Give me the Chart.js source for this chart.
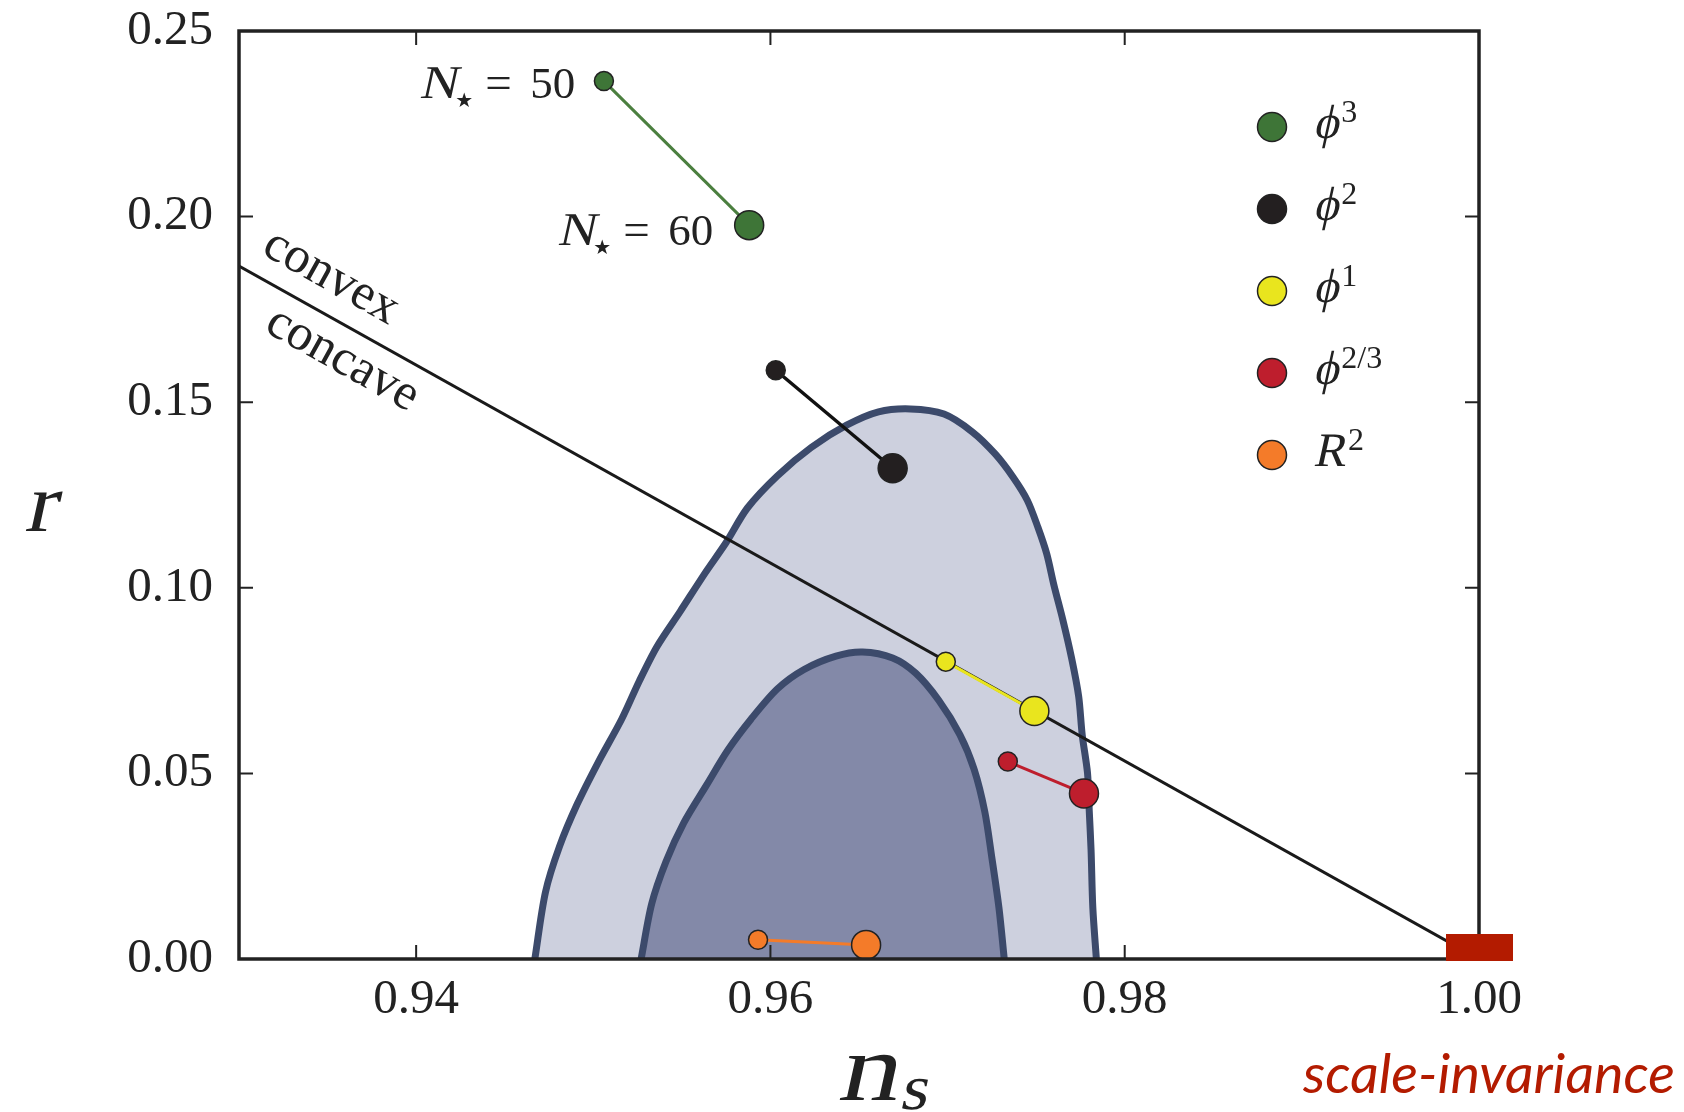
<!DOCTYPE html>
<html>
<head>
<meta charset="utf-8">
<script src="https://cdn.jsdelivr.net/npm/chart.js@4.4.1/dist/chart.umd.min.js"></script>
<style>
  html, body { margin: 0; padding: 0; background: #fff; }
</style>
</head>
<body>
<canvas id="chart" width="1684" height="1112"></canvas>
<script>
// axis ticks
const xTicks = [0.94, 0.96, 0.98, 1.00];
const yTicks = [0.00, 0.05, 0.10, 0.15, 0.20, 0.25];

// 2-sigma contour, traced from bottom-left over the top to bottom-right
const outerNs = [0.9467, 0.9473, 0.9481, 0.9491, 0.9503, 0.9516, 0.9526, 0.9536, 0.9549, 0.9563, 0.9575, 0.9587,
  0.9604, 0.9623, 0.9643, 0.9661, 0.9679, 0.9698, 0.9714, 0.9727, 0.9737, 0.9745, 0.9751, 0.9756, 0.9760,
  0.9765, 0.9770, 0.9774, 0.9776, 0.9779, 0.9780, 0.9781, 0.9782, 0.9784];
const outerR = [0.0000, 0.0180, 0.0304, 0.0418, 0.0532, 0.0646, 0.0749, 0.0842, 0.0936, 0.1039, 0.1122, 0.1215,
  0.1302, 0.1378, 0.1438, 0.1474, 0.1482, 0.1468, 0.1420, 0.1360, 0.1298, 0.1236, 0.1163, 0.1091, 0.1008,
  0.0915, 0.0811, 0.0708, 0.0604, 0.0501, 0.0397, 0.0294, 0.0138, 0.0000];

// 1-sigma contour
const innerNs = [0.9527, 0.9533, 0.9541, 0.9551, 0.9564, 0.9576, 0.9589, 0.9604, 0.9619, 0.9637, 0.9652,
  0.9669, 0.9682, 0.9695, 0.9707, 0.9715, 0.9721, 0.9725, 0.9729, 0.9732];
const innerR = [0.0000, 0.0149, 0.0262, 0.0366, 0.0469, 0.0563, 0.0646, 0.0728, 0.0780, 0.0816, 0.0827,
  0.0811, 0.0770, 0.0697, 0.0604, 0.0511, 0.0397, 0.0273, 0.0138, 0.0000];

// convex / concave boundary line
const boundaryNs = [0.93, 1.00];
const boundaryR = [0.1867, 0.0];

// model predictions, [N=50, N=60]
const modelBase = ['\u03D5', '\u03D5', '\u03D5', '\u03D5', 'R'];
const modelSup = ['3', '2', '1', '2/3', '2'];
const modelColors = ['#3E7537', '#231F20', '#E9E51E', '#BE1E2D', '#F47B29'];
const modelLineColors = ['#4B7F3F', '#111111', '#E9E51E', '#BE1E2D', '#F47B29'];
const modelNs = [[0.9506, 0.9588], [0.9603, 0.9669], [0.9699, 0.9749], [0.9734, 0.9777], [0.9593, 0.9654]];
const modelR = [[0.2365, 0.1977], [0.1586, 0.1322], [0.0801, 0.0668], [0.0532, 0.0446], [0.0052, 0.0038]];

// scale invariant point
const siNs = [1.00];
const siR = [0.003];

const edgeColor = '#3C4A6B';
const serif = '"Liberation Serif", serif';
const ink = '#222222';
const siColor = '#B31B00';

const toXY = (xs, ys) => xs.map((x, i) => ({ x: x, y: ys[i] }));

// red bar marker for n_s = 1
const bar = document.createElement('canvas');
bar.width = 67; bar.height = 27;
const bctx = bar.getContext('2d');
bctx.fillStyle = siColor;
bctx.fillRect(0, 0, 67, 27);

const datasets = [
  {
    label: '2 sigma', data: toXY(outerNs, outerR), borderColor: edgeColor, borderWidth: 7,
    backgroundColor: '#CDD0DE', fill: 'origin', pointRadius: 0, tension: 0.3, order: 10,
    borderJoinStyle: 'round'
  },
  {
    label: '1 sigma', data: toXY(innerNs, innerR), borderColor: edgeColor, borderWidth: 7,
    backgroundColor: '#8389A8', fill: 'origin', pointRadius: 0, tension: 0.3, order: 9,
    borderJoinStyle: 'round'
  },
  {
    label: 'boundary', data: toXY(boundaryNs, boundaryR), borderColor: '#1A1A1A', borderWidth: 3,
    fill: false, pointRadius: 0, order: 8
  }
];

modelNs.forEach((ns, i) => {
  datasets.push({
    label: modelBase[i] + modelSup[i], data: toXY(ns, modelR[i]),
    borderColor: modelLineColors[i], borderWidth: i === 1 ? 3.5 : 3,
    pointRadius: [9.5, 14.5], pointBackgroundColor: modelColors[i],
    pointBorderColor: '#222', pointBorderWidth: 1.5, fill: false, order: 1 + i
  });
});

datasets.push({
  label: 'scale-invariance', data: toXY(siNs, siR), showLine: false,
  pointStyle: bar, pointRadius: 5, clip: false, order: 0
});
const barIndex = datasets.length - 1;

// slanted serif text (no serif italic face is installed)
function slanted(ctx, text, x, y, size, stretch) {
  const sx = stretch || 1;
  ctx.save();
  ctx.font = size + 'px ' + serif;
  ctx.translate(x, y);
  ctx.transform(sx, 0, -0.22, 1, 0, 0);
  ctx.fillText(text, 0, 0);
  const w = ctx.measureText(text).width * sx;
  ctx.restore();
  return w;
}

function drawFrame(chart) {
  const { ctx, chartArea: a, scales } = chart;
  ctx.save();
  ctx.strokeStyle = ink;
  ctx.lineWidth = 2;
  const tl = 14;
  xTicks.forEach(v => {
    const px = scales.x.getPixelForValue(v);
    ctx.beginPath();
    ctx.moveTo(px, a.bottom); ctx.lineTo(px, a.bottom - tl);
    ctx.moveTo(px, a.top); ctx.lineTo(px, a.top + tl);
    ctx.stroke();
  });
  yTicks.forEach(v => {
    const py = scales.y.getPixelForValue(v);
    ctx.beginPath();
    ctx.moveTo(a.left, py); ctx.lineTo(a.left + tl, py);
    ctx.moveTo(a.right, py); ctx.lineTo(a.right - tl, py);
    ctx.stroke();
  });
  ctx.lineWidth = 3.5;
  ctx.strokeRect(a.left, a.top, a.right - a.left, a.bottom - a.top);
  ctx.restore();
}

function nStarLabel(ctx, x, y, num) {
  ctx.textAlign = 'left';
  ctx.textBaseline = 'alphabetic';
  ctx.fillStyle = ink;
  slanted(ctx, 'N', x, y, 47, 1.1);
  ctx.font = '20px "DejaVu Sans", sans-serif';
  ctx.fillText('\u2605', x + 36, y + 9);
  ctx.font = '47px ' + serif;
  ctx.fillText('=', x + 66, y);
  ctx.font = '45px ' + serif;
  ctx.fillText(num, x + 111, y);
}

const decor = {
  id: 'decor',
  beforeDatasetDraw(chart, args) {
    if (args.index === barIndex) drawFrame(chart);
  },
  afterDraw(chart) {
    const { ctx, chartArea: a, scales } = chart;
    const X = v => scales.x.getPixelForValue(v);
    const Y = v => scales.y.getPixelForValue(v);
    ctx.save();
    ctx.textAlign = 'left';
    ctx.textBaseline = 'alphabetic';

    // N labels next to the phi^3 points
    nStarLabel(ctx, X(0.94017), Y(0.2319), '50');
    nStarLabel(ctx, X(0.94797), Y(0.1923), '60');

    // convex / concave along the boundary line
    const ang = Math.atan2(Y(boundaryR[1]) - Y(boundaryR[0]), X(boundaryNs[1]) - X(boundaryNs[0]));
    ctx.fillStyle = ink;
    ctx.font = '51px ' + serif;
    [['convex', 0.9312, 0.1902], ['concave', 0.93135, 0.1693]].forEach(([t, nx, ry]) => {
      ctx.save();
      ctx.translate(X(nx), Y(ry));
      ctx.rotate(ang);
      ctx.fillText(t, 0, 0);
      ctx.restore();
    });

    // legend
    const lx = a.right - 207;
    modelColors.forEach((c, i) => {
      const ly = a.top + 96 + i * 82;
      ctx.beginPath();
      ctx.arc(lx, ly, 14.5, 0, Math.PI * 2);
      ctx.fillStyle = c;
      ctx.fill();
      ctx.lineWidth = 1.5;
      ctx.strokeStyle = '#222';
      ctx.stroke();
      ctx.fillStyle = ink;
      const bx = lx + 41;
      const w = slanted(ctx, modelBase[i], bx, ly + 11, 48);
      ctx.font = '32px ' + serif;
      ctx.fillText(modelSup[i], bx + w + 3, ly - 5);
    });

    // axis titles
    ctx.fillStyle = ink;
    slanted(ctx, 'r', a.left - 215, (a.top + a.bottom) / 2 + 36, 84, 1.1);
    const cx = (a.left + a.right) / 2;
    const nw = slanted(ctx, 'n', cx - 22, a.bottom + 141, 96, 1.25);
    slanted(ctx, 's', cx - 22 + nw + 2, a.bottom + 150, 64, 1.1);

    // scale-invariance note
    ctx.font = 'italic 55px Lato, "Open Sans", sans-serif';
    ctx.fillStyle = siColor;
    const sw = ctx.measureText('scale-invariance').width;
    ctx.translate(a.right - 176, a.bottom + 134);
    ctx.scale(372 / sw, 1);
    ctx.fillText('scale-invariance', 0, 0);
    ctx.restore();
  }
};

new Chart(document.getElementById('chart'), {
  type: 'line',
  data: { datasets: datasets },
  plugins: [decor],
  options: {
    responsive: false,
    animation: false,
    devicePixelRatio: 1,
    layout: { padding: { top: 31, right: 205, left: 0, bottom: 0 } },
    plugins: { legend: { display: false }, tooltip: { enabled: false } },
    scales: {
      x: {
        type: 'linear', min: 0.93, max: 1.00,
        grid: { display: false, drawTicks: false },
        border: { display: false },
        afterBuildTicks: s => { s.ticks = xTicks.map(v => ({ value: v })); },
        afterFit: s => { s.height = 153; s.paddingLeft = 0; s.paddingRight = 0; },
        ticks: {
          padding: 12, color: ink, maxRotation: 0,
          font: { family: serif, size: 49 },
          callback: v => v.toFixed(2)
        }
      },
      y: {
        type: 'linear', min: 0, max: 0.25,
        grid: { display: false, drawTicks: false },
        border: { display: false },
        afterBuildTicks: s => { s.ticks = yTicks.map(v => ({ value: v })); },
        afterFit: s => { s.width = 239; s.paddingTop = 0; s.paddingBottom = 0; },
        ticks: {
          padding: 26, color: ink,
          font: { family: serif, size: 49 },
          callback: v => v.toFixed(2)
        }
      }
    }
  }
});
</script>
</body>
</html>
